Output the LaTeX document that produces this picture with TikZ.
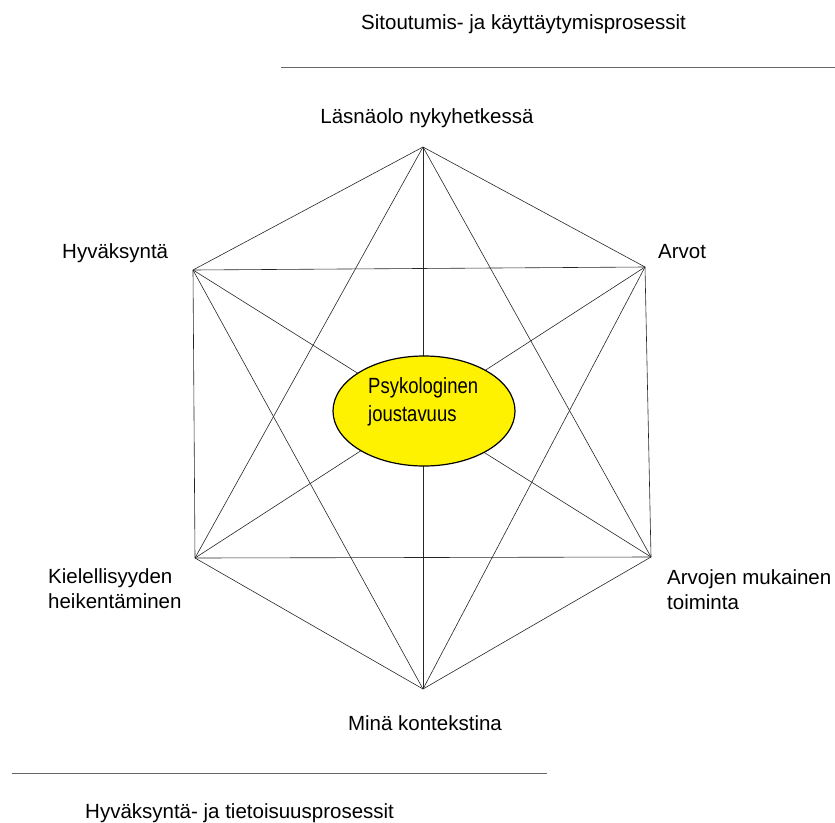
\documentclass[tikz,border=0pt]{standalone}
\usepackage{fontspec}
\usetikzlibrary{shapes.geometric}
\setmainfont{Liberation Sans}
\newfontfamily\narrowfont[FakeStretch=0.84]{Liberation Sans}
\begin{document}
\begin{tikzpicture}[x=1pt,y=-1pt,
  edge/.style={draw=black!85, line width=0.6pt},
  rule/.style={draw=black!60, line width=0.8pt},
  lbl/.style={font=\fontsize{20.5}{25}\selectfont, inner sep=0pt},
  core/.style={ellipse, draw=black, line width=1.2pt, fill=yellow, minimum width=182pt, minimum height=110pt, inner sep=0pt}]
\useasboundingbox (0,0) rectangle (835,822);
\coordinate (T) at (423,147);
\coordinate (UL) at (193,270);
\coordinate (UR) at (645,267);
\coordinate (LL) at (195,558);
\coordinate (LR) at (651,557);
\coordinate (B) at (423,689);
\foreach \a/\b in {T/UL,T/UR,T/LL,T/LR,T/B,UL/UR,UL/LL,UL/LR,UL/B,UR/LL,UR/LR,UR/B,LL/LR,LL/B,LR/B}
  \draw[edge] (\a) -- (\b);
\node[core] (C) at (424,411) {};
\node[font=\narrowfont\fontsize{22}{28}\selectfont, align=left, anchor=west, inner sep=0pt] (Ct) at (368,402) {Psykologinen\\joustavuus};
\node[lbl, anchor=base] (tT) at (427,123) {Läsnäolo nykyhetkessä};
\node[lbl, anchor=base west] (tUL) at (62,258) {Hyväksyntä};
\node[lbl, anchor=base west] (tUR) at (658,258) {Arvot};
\node[lbl, anchor=base west, align=left] (tLL) at (48,608) {Kielellisyyden\\heikentäminen};
\node[lbl, anchor=base west, align=left] (tLR) at (667,609) {Arvojen mukainen\\toiminta};
\node[lbl, anchor=base] (tB) at (425,730) {Minä kontekstina};
\coordinate (r1a) at (281,67);
\coordinate (r1b) at (835,67);
\draw[rule] (r1a) -- (r1b);
\coordinate (r2a) at (12,773);
\coordinate (r2b) at (547,773);
\draw[rule] (r2a) -- (r2b);
\node[lbl, anchor=base west] (top) at (361,29) {Sitoutumis- ja käyttäytymisprosessit};
\node[lbl, anchor=base west] (bot) at (85,818) {Hyväksyntä- ja tietoisuusprosessit};
\end{tikzpicture}
\end{document}
